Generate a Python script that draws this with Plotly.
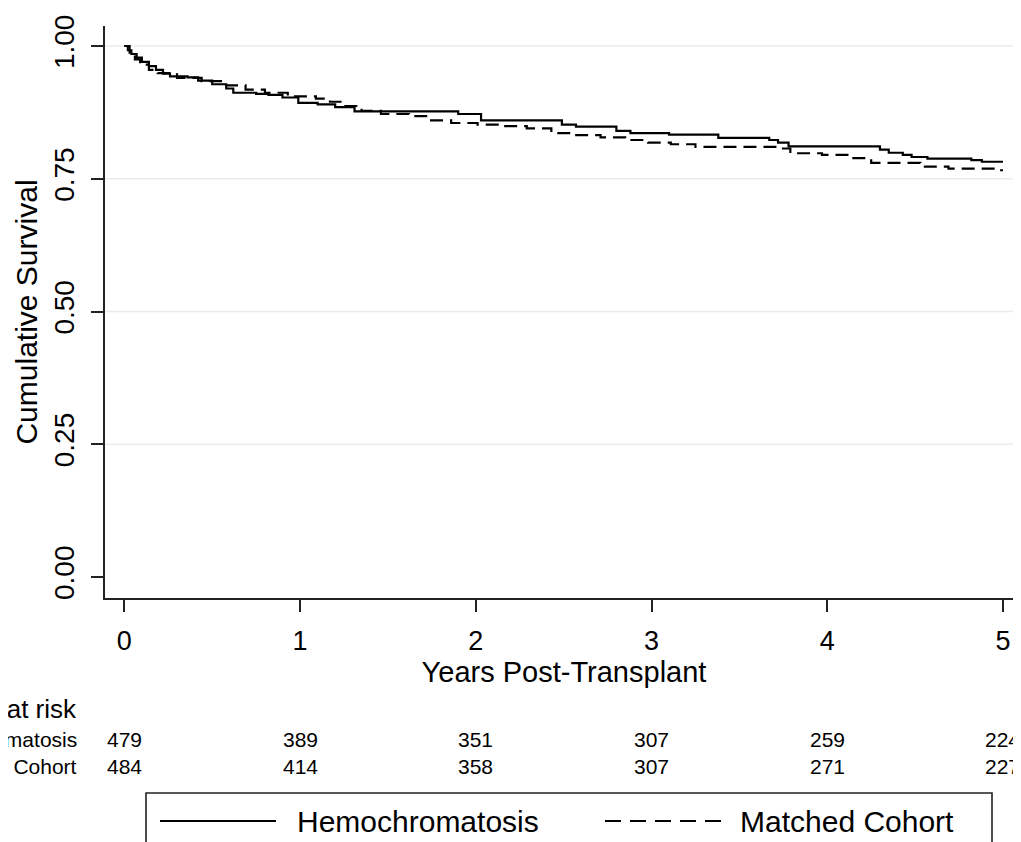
import plotly.graph_objects as go

# ---- data ----
hemo_t = [0, 0.02, 0.04, 0.07, 0.10, 0.14, 0.18, 0.22, 0.26, 0.36, 0.42, 0.50, 0.58, 0.62,
          0.75, 0.82, 0.90, 0.99, 1.10, 1.20, 1.31, 1.67, 1.90, 2.03, 2.49, 2.57, 2.80,
          2.88, 3.10, 3.38, 3.67, 3.72, 3.78, 4.30, 4.35, 4.43, 4.48, 4.57, 4.82, 4.88, 5.0]
hemo_s = [1.0, 0.992, 0.985, 0.978, 0.970, 0.962, 0.955, 0.948, 0.943, 0.941, 0.935, 0.928,
          0.920, 0.912, 0.910, 0.908, 0.903, 0.893, 0.890, 0.885, 0.877, 0.877, 0.872, 0.860,
          0.852, 0.848, 0.840, 0.836, 0.833, 0.827, 0.823, 0.818, 0.811, 0.805, 0.799, 0.795,
          0.791, 0.788, 0.785, 0.782, 0.782]

match_t = [0, 0.03, 0.06, 0.09, 0.14, 0.19, 0.30, 0.44, 0.55, 0.69, 0.80, 0.93, 1.09, 1.17,
           1.24, 1.35, 1.46, 1.62, 1.73, 1.86, 2.01, 2.15, 2.29, 2.43, 2.55, 2.71, 2.85, 2.98,
           3.11, 3.25, 3.72, 3.79, 3.97, 4.14, 4.25, 4.53, 4.69, 4.97, 5.0]
match_s = [1.0, 0.985, 0.975, 0.965, 0.955, 0.949, 0.940, 0.934, 0.926, 0.918, 0.912, 0.905,
           0.901, 0.895, 0.887, 0.878, 0.872, 0.868, 0.860, 0.855, 0.852, 0.849, 0.845, 0.836,
           0.832, 0.828, 0.823, 0.818, 0.815, 0.810, 0.807, 0.798, 0.795, 0.789, 0.780, 0.773,
           0.769, 0.766, 0.766]

years = [0, 1, 2, 3, 4, 5]
risk_hemo = [479, 389, 351, 307, 259, 224]
risk_match = [484, 414, 358, 307, 271, 227]
ytick_vals = [0, 0.25, 0.5, 0.75, 1.0]
ytick_text = ["0.00", "0.25", "0.50", "0.75", "1.00"]
group_names = ["Hemochromatosis", "Matched Cohort"]

FONT = "Liberation Sans, Arial, sans-serif"
W, H = 1021, 842
ML, MR, MT, MB = 97, 6, 18, 252
PW = W - ML - MR
PH = H - MT - MB


def px2paper_x(px):
    return (px - ML) / PW


def px2paper_y(py):
    return (H - MB - py) / PH


fig = go.Figure()
fig.add_trace(go.Scatter(x=hemo_t, y=hemo_s, mode="lines", line_shape="hv",
                         line=dict(color="black", width=2.2), name=group_names[0]))
fig.add_trace(go.Scatter(x=match_t, y=match_s, mode="lines", line_shape="hv",
                         line=dict(color="black", width=2.2, dash="13px,7px"), name=group_names[1]))

shapes = []
# light horizontal gridlines
for v in ytick_vals[1:]:
    shapes.append(dict(type="line", xref="paper", x0=0, x1=1, yref="y", y0=v, y1=v,
                       line=dict(color="#ebebeb", width=1.5), layer="below"))
# manual legend box
shapes.append(dict(type="rect", xref="paper", yref="paper",
                   x0=px2paper_x(138), x1=px2paper_x(984),
                   y0=px2paper_y(841), y1=px2paper_y(785),
                   line=dict(color="#222", width=1.6), fillcolor="white"))
ly = px2paper_y(813)
shapes.append(dict(type="line", xref="paper", yref="paper", x0=px2paper_x(152), x1=px2paper_x(268),
                   y0=ly, y1=ly, line=dict(color="black", width=2.2)))
shapes.append(dict(type="line", xref="paper", yref="paper", x0=px2paper_x(597), x1=px2paper_x(713),
                   y0=ly, y1=ly, line=dict(color="black", width=2.2, dash="16px,9px")))

ann = []
ann.append(dict(text=group_names[0], xref="paper", yref="paper", x=px2paper_x(287), y=ly,
                xanchor="left", yanchor="middle", showarrow=False, font=dict(size=30, color="black")))
ann.append(dict(text=group_names[1], xref="paper", yref="paper", x=px2paper_x(730), y=ly,
                xanchor="left", yanchor="middle", showarrow=False, font=dict(size=30, color="black")))
# number at risk table
ann.append(dict(text="Number at risk", xref="paper", yref="paper", x=px2paper_x(71), y=px2paper_y(701),
                xanchor="right", yanchor="middle", showarrow=False, font=dict(size=26, color="black")))
row_y = [px2paper_y(731), px2paper_y(758)]
for name, vals, yy in zip(group_names, [risk_hemo, risk_match], row_y):
    ann.append(dict(text=name, xref="paper", yref="paper", x=px2paper_x(71), y=yy,
                    xanchor="right", yanchor="middle", showarrow=False, font=dict(size=21, color="black")))
    for t, n in zip(years, vals):
        ann.append(dict(text=str(n), xref="x", yref="paper", x=t, y=yy,
                        xanchor="center", yanchor="middle", showarrow=False,
                        font=dict(size=21, color="black")))

fig.update_layout(
    width=W, height=H,
    margin=dict(l=ML, r=MR, t=MT, b=MB, pad=0, autoexpand=False),
    paper_bgcolor="white", plot_bgcolor="white",
    font=dict(family=FONT, color="black"),
    showlegend=False,
    shapes=shapes, annotations=ann,
    xaxis=dict(range=[-0.11, 5.114], tickvals=years, ticks="outside", ticklen=12,
               tickwidth=1.6, tickcolor="#222", showline=True, linecolor="#222", linewidth=1.8,
               showgrid=False, zeroline=False, tickfont=dict(size=27),
               ticklabelstandoff=6, automargin=False,
               title=dict(text="Years Post-Transplant", font=dict(size=29), standoff=2)),
    yaxis=dict(range=[-0.0396, 1.0377], tickvals=ytick_vals, ticktext=ytick_text, tickangle=-90,
               ticks="outside", ticklen=12, tickwidth=1.6, tickcolor="#222",
               showline=True, linecolor="#222", linewidth=1.8, showgrid=False, zeroline=False,
               tickfont=dict(size=28), ticklabelstandoff=6, automargin=False,
               title=dict(text="Cumulative Survival", font=dict(size=30), standoff=2)),
)

fig.write_html("out.html")
